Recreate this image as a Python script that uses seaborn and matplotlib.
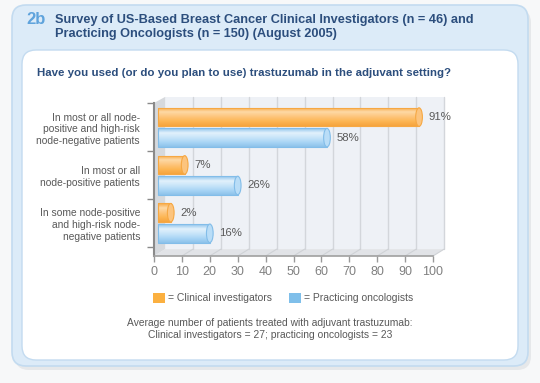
import numpy as np
import pandas as pd
import seaborn as sns
import matplotlib.pyplot as plt
from matplotlib.patches import FancyBboxPatch, Ellipse, Polygon, Patch
from matplotlib.colors import LinearSegmentedColormap

# данные
categories = ['In most or all node-\npositive and high-risk\nnode-negative patients',
              'In most or all\nnode-positive patients',
              'In some node-positive\nand high-risk node-\nnegative patients']
groups = ['Clinical investigators', 'Practicing oncologists']
investigators = [91, 7, 2]
oncologists = [58, 26, 16]
x_ticks = list(range(0, 101, 10))

df = pd.DataFrame({
    'category': categories * 2,
    'group': [groups[0]] * 3 + [groups[1]] * 3,
    'value': investigators + oncologists,
})

sns.set_theme(style='white')
plt.rcParams['font.family'] = ['Liberation Sans', 'DejaVu Sans']

dark_blue = '#2c4e7d'
grey_text = '#595959'

fig = plt.figure(figsize=(5.4, 3.83), dpi=100)
fig.patch.set_facecolor('#f7f8f9')

# фон в пикселях
bg = fig.add_axes([0, 0, 1, 1], zorder=0)
bg.set_xlim(0, 540)
bg.set_ylim(383, 0)
bg.axis('off')
bg.add_patch(FancyBboxPatch((15, 9), 516, 361, boxstyle='round,pad=0,rounding_size=14',
                            fc='#e6e8ea', ec='none'))
bg.add_patch(FancyBboxPatch((12, 5), 516, 361, boxstyle='round,pad=0,rounding_size=14',
                            fc='#dcebf8', ec='#c3dbf0', lw=1.2))
bg.add_patch(FancyBboxPatch((22, 50), 496, 310, boxstyle='round,pad=0,rounding_size=14',
                            fc='white', ec='#c3dbf0', lw=1))

bg.text(26, 20, '2b', color='#5fa3dc', fontsize=12, fontweight='bold', va='center')
bg.text(55, 20, 'Survey of US-Based Breast Cancer Clinical Investigators (n = 46) and',
        color=dark_blue, fontsize=9.2, fontweight='bold', va='center')
bg.text(55, 34, 'Practicing Oncologists (n = 150) (August 2005)',
        color=dark_blue, fontsize=9.2, fontweight='bold', va='center')
bg.text(37, 73, 'Have you used (or do you plan to use) trastuzumab in the adjuvant setting?',
        color=dark_blue, fontsize=8.25, fontweight='bold', va='center')
bg.text(270, 329, 'Average number of patients treated with adjuvant trastuzumab:\n'
        'Clinical investigators = 27; practicing oncologists = 23',
        color=grey_text, fontsize=7.4, ha='center', va='center', linespacing=1.25)

# основной график
ax = fig.add_axes([154 / 540, (383 - 256) / 383, 279 / 540, 153 / 383], zorder=2)
ax.patch.set_alpha(0)
sns.barplot(data=df, y='category', x='value', hue='group', orient='h', ax=ax,
            palette=['#fdb654', '#a9d5f5'], width=0.86, gap=0.1, legend=False,
            saturation=1)
bars = [p for cont in ax.containers for p in cont]

ax.set_xlim(0, 100)
ax.set_ylim(2.69, -0.51)

# 3D стенки
dx, dy = 4, 0.045
tr = ax.get_xaxis_transform()
ax.add_patch(Polygon([(dx, dy), (100 + dx, dy), (100 + dx, 1.04), (dx, 1.04)],
                     transform=tr, fc='#eef1f6', ec='none', zorder=0, clip_on=False))
ax.add_patch(Polygon([(0, 0), (100, 0), (100 + dx, dy), (dx, dy)],
                     transform=tr, fc='#e1e3e7', ec='none', zorder=0.5, clip_on=False))
ax.add_patch(Polygon([(0, 0), (dx, dy), (dx, 1.04), (0, 1.0)],
                     transform=tr, fc='#d6d9dd', ec='none', zorder=0.5, clip_on=False))
for t in x_ticks[1:]:
    ax.plot([t + dx, t + dx], [dy, 1.04], transform=tr, color='#d3d6db', lw=1,
            zorder=0.6, clip_on=False)
    ax.plot([t, t + dx], [0, dy], transform=tr, color='#cfd2d6', lw=0.8,
            zorder=0.6, clip_on=False)

# объемные бары (сдвиг на глубину 3D)
grads = {
    'o': (['#f7a742', '#fed9a6', '#fdc57c', '#fdb654', '#f6a43e'], '#f6a843', '#fcc47e'),
    'b': (['#8ec4ec', '#e2f1fc', '#c8e5f9', '#a9d5f5', '#8cc2eb'], '#82bde9', '#b9ddf7'),
}
cols = ['o'] * len(investigators) + ['b'] * len(oncologists)
grad = np.linspace(0, 1, 64).reshape(-1, 1)
for p, c in zip(bars, cols):
    stops, edge, cap = grads[c]
    cmap = LinearSegmentedColormap.from_list('g', stops)
    p.set_x(p.get_x() + 1.5)
    p.set_width(p.get_width() + dx - 1.5)
    x, y, w, h = p.get_x(), p.get_y(), p.get_width(), p.get_height()
    im = ax.imshow(grad, cmap=cmap, extent=[x, x + w, y + h, y], aspect='auto', zorder=2)
    im.set_clip_path(p)
    p.set_edgecolor(edge)
    p.set_linewidth(0.8)
    p.set_zorder(2.1)
    p.set_facecolor('none')
    ax.add_patch(Ellipse((x + w, y + h / 2), 2.4, h, fc=cap, ec=edge, lw=0.8, zorder=2.2))

ax.set_xlim(0, 100)
ax.set_ylim(2.69, -0.51)

for cont, vals in zip(ax.containers, [investigators, oncologists]):
    ax.bar_label(cont, labels=[f'{v}%' for v in vals], padding=7, color=grey_text, fontsize=8.2)

ax.set_xticks(x_ticks)
ax.set_xlabel('')
ax.set_ylabel('')
ax.tick_params(axis='x', length=4, width=1, color='#999999', labelcolor='#808080',
               labelsize=9, pad=3, bottom=True)
ax.tick_params(axis='y', which='major', length=0, labelcolor=grey_text, labelsize=7.4, pad=10)
ax.set_yticks([-0.5, 0.5, 1.5, 2.5], minor=True)
ax.tick_params(axis='y', which='minor', length=5, width=1, color='#8a8a8a', left=True)
for lab in ax.get_yticklabels():
    lab.set_linespacing(1.22)

for s in ['top', 'right']:
    ax.spines[s].set_visible(False)
ax.spines['left'].set_color('#8a8a8a')
ax.spines['left'].set_linewidth(1.5)
ax.spines['bottom'].set_color('#a0a0a0')
ax.spines['bottom'].set_linewidth(1.2)
ax.grid(False)

# легенда
handles = [Patch(fc='#fbb040', ec='none'), Patch(fc='#7fbfea', ec='none')]
fig.legend(handles, ['= ' + g for g in groups], loc='center', ncol=2, frameon=False,
           bbox_to_anchor=(283 / 540, 1 - 298 / 383), fontsize=7.5,
           handlelength=1.15, handleheight=1.15, handletextpad=0.3, columnspacing=1.6,
           labelcolor=grey_text)

plt.savefig('out.png', dpi=100, facecolor=fig.get_facecolor())
